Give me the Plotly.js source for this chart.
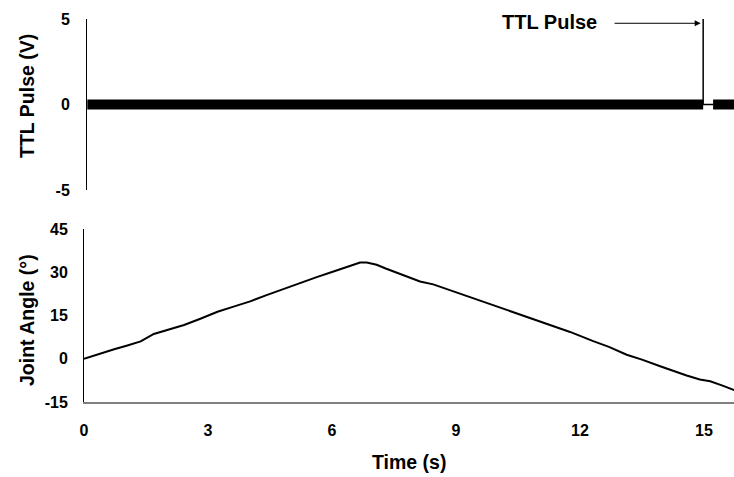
<!DOCTYPE html>
<html>
<head>
<meta charset="utf-8">
<script src="https://cdn.plot.ly/plotly-3.0.1.min.js"></script>
<style>html,body{margin:0;padding:0;background:#fff;}#chart{width:734px;height:477px;}</style>
</head>
<body>
<div id="chart"></div>
<script>
// Joint angle (deg) vs time (s)
const angleTime = [0, 0.3, 0.73, 1.05, 1.37, 1.69, 2.0, 2.42, 2.8, 3.23, 3.6, 4.02, 4.4, 4.82, 5.2, 5.63, 6.0, 6.44, 6.68, 6.84, 7.08, 7.3, 7.6, 7.9, 8.13, 8.45, 8.85, 9.26, 9.65, 10.06, 10.45, 10.87, 11.3, 11.76, 12.32, 12.7, 13.13, 13.5, 13.94, 14.25, 14.58, 14.9, 15.15, 15.45, 15.73];
const angleDeg  = [0, 1.4, 3.3, 4.6, 6.0, 8.6, 10.0, 11.7, 13.8, 16.3, 18.0, 19.9, 22.0, 24.2, 26.1, 28.3, 30.1, 32.2, 33.4, 33.4, 32.6, 31.3, 29.7, 28.0, 26.8, 25.8, 23.8, 21.7, 19.8, 17.7, 15.7, 13.7, 11.5, 9.3, 6.1, 4.1, 1.4, -0.3, -2.6, -4.2, -5.8, -7.2, -7.8, -9.3, -10.9];

// TTL signal: noisy baseline segments and the pulse
const ttlBaseTime = [0.08, 14.98, null, 15.22, 15.73];
const ttlBaseVolt = [0, 0, null, 0, 0];
const pulseTime = [14.98, 14.98, 14.98, 15.22];
const pulseVolt = [0, 5, 0, 0];

// Axis ticks
const angleTicks = [-15, 0, 15, 30, 45];
const angleTickText = ['-15', '0', '15', '30', '45'];
const voltTicks = [-5, 0, 5];
const voltTickText = ['-5', '0', '5'];
const timeTicks = [0, 3, 6, 9, 12, 15];
const timeTickText = ['0', '3', '6', '9', '12', '15'];

const W = 734, H = 477;
const px = v => v / W, py = v => (H - v) / H;
const FONT = 'Liberation Sans, Arial, sans-serif';
const tickFont = {family: FONT, size: 16, color: '#000', weight: 'bold'};
const titleFont = {family: FONT, size: 19.5, color: '#000', weight: 'bold'};

const traces = [
  {x: angleTime, y: angleDeg, xaxis: 'x', yaxis: 'y', mode: 'lines',
   line: {color: '#000', width: 2}, hoverinfo: 'skip'},
  {x: ttlBaseTime, y: ttlBaseVolt, xaxis: 'x2', yaxis: 'y2', mode: 'lines',
   line: {color: '#000', width: 10}, connectgaps: false, hoverinfo: 'skip'},
  {x: pulseTime, y: pulseVolt, xaxis: 'x2', yaxis: 'y2', mode: 'lines',
   line: {color: '#000', width: 1.5}, hoverinfo: 'skip'}
];

const layout = {
  width: W, height: H,
  margin: {l: 0, r: 0, t: 0, b: 0},
  paper_bgcolor: '#fff', plot_bgcolor: 'rgba(0,0,0,0)',
  showlegend: false,
  xaxis: {domain: [px(84), 1], range: [0, 15.726], tickvals: timeTicks, ticktext: timeTickText,
    showgrid: false, zeroline: false, showline: true, linecolor: '#808080', linewidth: 2,
    ticks: '', tickfont: tickFont, ticklabelstandoff: 13, anchor: 'y'},
  yaxis: {domain: [py(402), py(229)], range: [-15, 45], tickvals: angleTicks, ticktext: angleTickText,
    showgrid: false, zeroline: false, showline: true, linecolor: '#000', linewidth: 1,
    ticks: '', tickfont: tickFont, ticklabelstandoff: 12, anchor: 'x'},
  xaxis2: {domain: [px(87), 1], range: [0.0726, 15.726], visible: false, anchor: 'y2'},
  yaxis2: {domain: [py(190), py(19)], range: [-5, 5], tickvals: voltTicks, ticktext: voltTickText,
    showgrid: false, zeroline: false, showline: true, linecolor: '#000', linewidth: 1,
    ticks: '', tickfont: tickFont, ticklabelstandoff: 13, anchor: 'x2'},
  annotations: [
    {xref: 'paper', yref: 'paper', x: px(409), y: py(462), text: 'Time (s)',
     showarrow: false, font: titleFont, xanchor: 'center', yanchor: 'middle'},
    {xref: 'paper', yref: 'paper', x: px(27), y: py(320), text: 'Joint Angle (°)',
     showarrow: false, font: titleFont, textangle: -90, xanchor: 'center', yanchor: 'middle'},
    {xref: 'paper', yref: 'paper', x: px(27), y: py(96), text: 'TTL Pulse (V)',
     showarrow: false, font: titleFont, textangle: -90, xanchor: 'center', yanchor: 'middle'},
    {xref: 'x2', yref: 'y2', x: 11.27, y: 4.85, text: 'TTL Pulse',
     showarrow: false, font: {family: FONT, size: 20, color: '#000', weight: 'bold'},
     xanchor: 'center', yanchor: 'middle'},
    {xref: 'x2', yref: 'y2', x: 14.92, y: 4.75, axref: 'x2', ayref: 'y2', ax: 12.8, ay: 4.75,
     text: '', showarrow: true, arrowhead: 2, arrowsize: 1.2, arrowwidth: 1, arrowcolor: '#000'}
  ]
};

Plotly.newPlot('chart', traces, layout, {staticPlot: true, displayModeBar: false});
</script>
</body>
</html>
